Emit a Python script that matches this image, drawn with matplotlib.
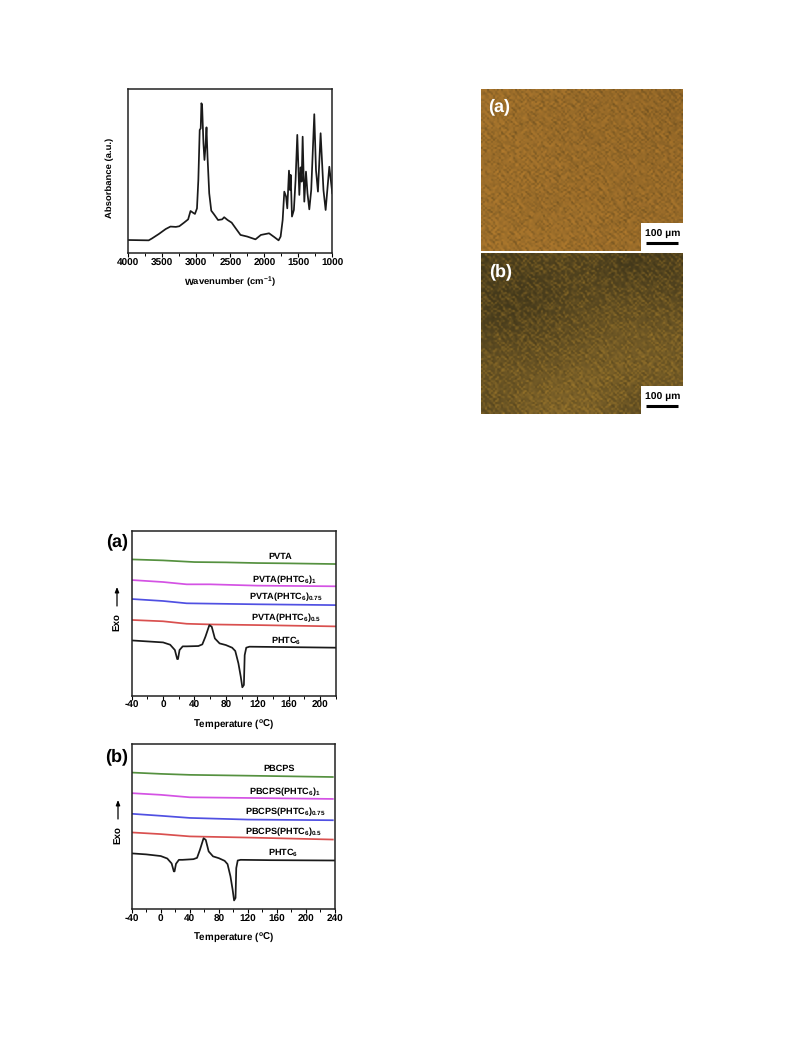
import numpy as np
import matplotlib
matplotlib.use("Agg")
import matplotlib.pyplot as plt
from matplotlib.ticker import MultipleLocator

plt.rcParams['font.family'] = ['Liberation Sans', 'DejaVu Sans']
plt.rcParams['font.weight'] = 'bold'
plt.rcParams['mathtext.fontset'] = 'custom'
plt.rcParams['mathtext.bf'] = 'Liberation Sans:bold'
plt.rcParams['mathtext.rm'] = 'Liberation Sans:bold'
plt.rcParams['axes.unicode_minus'] = False
plt.rcParams['text.hinting'] = 'none'

W, H = 793, 1057

# FTIR spectrum
wavenumber = [4000, 3700, 3650, 3550, 3450, 3380, 3300, 3250, 3180, 3120, 3085, 3050, 3020, 2990, 2970,
              2950, 2935, 2925, 2915, 2895, 2880, 2865, 2850, 2835, 2810, 2780, 2740, 2680, 2620, 2590,
              2540, 2480, 2420, 2350, 2250, 2130, 2050, 1930, 1850, 1790, 1760, 1730, 1706, 1680, 1662,
              1637, 1622, 1612, 1593, 1565, 1540, 1515, 1485, 1466, 1451, 1436, 1412, 1387, 1365, 1338,
              1310, 1265, 1240, 1211, 1172, 1130, 1098, 1044, 1000]
absorbance = [8.1, 7.9, 9.1, 11.8, 14.8, 16.3, 16.1, 16.5, 18.7, 20.7, 25.8, 24.8, 24.0, 27.4, 44.7,
              75.2, 76.2, 91.5, 90.4, 67.1, 56.9, 65.0, 76.8, 58.9, 36.6, 26.0, 23.8, 20.3, 20.7, 22.0,
              20.3, 18.7, 15.2, 11.2, 10.2, 8.5, 11.2, 12.2, 9.8, 7.9, 10.2, 20.3, 37.6, 34.6, 27.4,
              50.4, 38.6, 47.8, 22.4, 26.4, 44.7, 72.2, 35.6, 52.4, 43.7, 71.1, 31.5, 49.8, 36.6, 26.8,
              38.6, 84.8, 50.8, 37.6, 73.2, 38.6, 26.4, 52.8, 36.6]

# DSC traces, panel (a)
temp_a = [-40, 0, 40, 80, 120, 160, 220]
pvta = [82.6, 82.0, 81.0, 80.8, 80.4, 80.2, 79.8]
temp_a2 = [-40, 0, 30, 60, 120, 220]
pvta_1 = [70.1, 68.9, 67.5, 67.5, 66.7, 66.3]
pvta_075 = [58.6, 57.4, 56.0, 55.8, 55.4, 54.9]
pvta_05 = [45.9, 45.1, 43.6, 43.2, 42.8, 42.0]
temp_phtc = [-40, -20, 0, 9, 15, 18, 19, 21, 25, 30, 45, 50, 54, 59, 62, 66, 72, 80, 88, 92, 96, 99, 101,
             103, 104, 106, 110, 150]
phtc_a = [33.5, 32.9, 32.3, 30.9, 27.7, 22.2, 22.2, 27.7, 29.9, 29.9, 30.1, 31.1, 35.8, 42.8, 41.8, 34.7,
          31.7, 30.7, 29.1, 27.1, 19.6, 11.5, 5.1, 6.5, 24.6, 29.1, 29.7, 29.5]
phtc_a_end = 29.1

# DSC traces, panel (b)
temp_b = [-40, 0, 40, 120, 237]
pbcps = [82.7, 81.9, 81.3, 80.8, 80.0]
pbcps_1 = [70.2, 69.2, 67.7, 67.3, 66.7]
pbcps_075 = [57.7, 56.5, 55.2, 54.2, 53.8]
pbcps_05 = [46.4, 45.4, 44.0, 43.3, 42.1]
phtc_b = [33.7, 33.1, 32.1, 30.6, 27.6, 22.8, 22.8, 27.4, 29.8, 29.8, 30.2, 31.0, 35.9, 42.9, 41.9, 34.9,
          31.9, 30.8, 29.2, 27.2, 19.8, 11.7, 5.2, 6.7, 24.8, 29.4, 29.8, 29.6]
phtc_b_end = 29.4

# micrograph tones read by eye (rows top to bottom, 0 dark .. 1 bright)
tone_a = [[.62, .60, .58, .58, .56, .52],
          [.62, .60, .58, .56, .58, .55],
          [.60, .62, .60, .60, .58, .56],
          [.62, .60, .58, .60, .56, .58],
          [.64, .62, .62, .60, .60, .60]]
tone_b = [[.12, .16, .20, .18, .06, .14],
          [.12, .10, .18, .24, .24, .22],
          [.14, .14, .26, .32, .36, .34],
          [.26, .26, .32, .40, .44, .40],
          [.36, .40, .42, .46, .46, .42],
          [.30, .46, .50, .50, .25, .40]]
dark_a, bright_a = np.array([60, 42, 15]), np.array([225, 158, 62])
dark_b, bright_b = np.array([52, 46, 24]), np.array([205, 155, 60])

# hand typed grain, two tiles of different size so the repeat does not show
grain_7 = [[.6, -.4, .1, -.7, .5, -.2, .3],
           [-.5, .2, .7, -.3, -.6, .4, -.1],
           [.3, -.7, -.2, .5, .1, -.5, .6],
           [-.1, .5, -.6, .2, .7, -.3, -.4],
           [.7, -.3, .4, -.5, -.2, .6, -.6],
           [-.6, .1, -.4, .6, -.1, -.7, .4],
           [.2, .6, -.5, -.2, .4, .3, -.7]]
grain_11 = [[-.3, .5, .2, -.6, .1, .4, -.5, .6, -.2, .3, -.4],
            [.4, -.6, .6, .1, -.3, -.5, .2, -.1, .5, -.6, .3],
            [-.5, .1, -.2, .4, .6, -.4, .3, -.6, .2, .5, -.1],
            [.6, -.2, .3, -.5, -.1, .5, -.6, .4, -.3, .1, .2],
            [-.1, .4, -.6, .2, .5, -.3, .1, .6, -.5, -.2, .6],
            [.2, -.5, .5, -.4, -.6, .3, .6, -.2, .1, .4, -.3],
            [.5, .3, -.1, .6, -.2, -.6, .4, .2, -.4, -.5, .1],
            [-.6, .2, .4, -.3, .3, .6, -.1, -.5, .5, .2, -.2],
            [.1, -.4, -.5, .5, .2, -.2, -.3, .4, .6, -.6, .4],
            [.3, .6, -.3, -.1, -.5, .1, .5, -.4, -.6, .2, .5],
            [-.2, -.1, .1, .3, .4, -.6, -.5, .3, .2, .6, -.5]]

fig = plt.figure(figsize=(W / 100, H / 100), dpi=100)


def box(left, top, right, bottom):
    return fig.add_axes([left / W, 1 - bottom / H, (right - left) / W, (bottom - top) / H])


def px(x, y, s, **kw):
    fig.text(x / W, 1 - y / H, s, ha='center', va='center', **kw)


def style(ax):
    for s in ax.spines.values():
        s.set_linewidth(1.1)
        s.set_color('#222222')
    ax.set_yticks([])
    ax.tick_params(axis='x', which='major', length=3, width=0.8, labelsize=7.2, pad=0.8)
    ax.tick_params(axis='x', which='minor', length=1.8, width=0.7)


# FTIR
ax = box(128.3, 89.3, 332.3, 253.3)
ax.plot(wavenumber, absorbance, color='#1a1a1a', lw=1.25)
ax.set_xlim(4000, 1000)
ax.set_ylim(0, 100)
ax.xaxis.set_major_locator(MultipleLocator(500))
ax.xaxis.set_minor_locator(MultipleLocator(250))
style(ax)
px(230, 282, r'Wavenumber (cm$^{\mathbf{-1}}$)', fontsize=6.8)
px(110, 178, 'Absorbance (a.u.)', fontsize=6.8, rotation=90)


def dsc(box_px, xmax, curves, labels, letter_xy, exo_x, exo_y):
    ax = box(*box_px)
    for t, v, c in curves:
        ax.plot(t, v, color=c, lw=1.25)
    ax.set_xlim(-40, xmax)
    ax.set_ylim(0, 100)
    ax.xaxis.set_major_locator(MultipleLocator(40))
    ax.xaxis.set_minor_locator(MultipleLocator(20))
    style(ax)
    for x, y, s in labels:
        px(x, y, s, fontsize=6.6)
    px(letter_xy[0], letter_xy[1], letter_xy[2], fontsize=13)
    px(exo_x, exo_y, 'Exo', fontsize=7, rotation=90)
    fig.add_artist(plt.Annotation('', xy=(exo_x / W, 1 - (exo_y - 35) / H), xycoords='figure fraction',
                                  xytext=(exo_x / W, 1 - (exo_y - 16) / H), textcoords='figure fraction',
                                  arrowprops=dict(arrowstyle='-|>,head_width=0.12,head_length=0.3',
                                                  color='black', lw=0.9, shrinkA=0, shrinkB=0)))
    px((box_px[0] + box_px[2]) / 2, box_px[3] + 28, r'Temperature ($^{\mathbf{o}}$C)', fontsize=7)


green, magenta, blue, red, black = '#55913f', '#d452e4', '#5050e2', '#d9504f', '#1a1a1a'
sub = r'$_{\mathbf{%s}}$'

dsc((131.7, 530.7, 335.7, 695.7), 220,
    [(temp_a, pvta, green), (temp_a2, pvta_1, magenta), (temp_a2, pvta_075, blue), (temp_a2, pvta_05, red),
     (temp_phtc + [220], phtc_a + [phtc_a_end], black)],
    [(280, 557, 'PVTA'),
     (284, 580, 'PVTA(PHTC' + sub % '6' + ')' + sub % '1'),
     (286, 597, 'PVTA(PHTC' + sub % '6' + ')' + sub % '0.75'),
     (286, 618, 'PVTA(PHTC' + sub % '6' + ')' + sub % '0.5'),
     (286, 640, 'PHTC' + sub % '6')],
    (117, 542, '(a)'), 117, 622)

dsc((131.7, 744, 335, 909), 240,
    [(temp_b, pbcps, green), (temp_b, pbcps_1, magenta), (temp_b, pbcps_075, blue), (temp_b, pbcps_05, red),
     (temp_phtc + [240], phtc_b + [phtc_b_end], black)],
    [(279, 769, 'PBCPS'),
     (285, 792, 'PBCPS(PHTC' + sub % '6' + ')' + sub % '1'),
     (285, 812, 'PBCPS(PHTC' + sub % '6' + ')' + sub % '0.75'),
     (284, 832, 'PBCPS(PHTC' + sub % '6' + ')' + sub % '0.5'),
     (283, 852, 'PHTC' + sub % '6')],
    (117, 757, '(b)'), 118, 835)

# grain layer shared by both micrographs, cells about 2 px wide
rows, cols = 81, 101
grain = (np.tile(grain_7, (rows // 7 + 1, cols // 7 + 1))[:rows, :cols]
         + np.tile(grain_11, (rows // 11 + 1, cols // 11 + 1))[:rows, :cols])


# micrographs with scale bars
def micro(top, bottom, tone, dark, bright, grain_gold, strength, letter, letter_x, letter_y):
    ax = box(481.3, top, 683.3, bottom)
    t = np.array(tone)[:, :, None]
    ax.imshow((dark + (bright - dark) * t) / 255, aspect='auto', interpolation='bicubic', extent=(0, 1, 0, 1))
    rgba = np.zeros((rows, cols, 4))
    rgba[grain > 0, :3] = np.array(grain_gold) / 255
    rgba[grain <= 0, :3] = np.array([50, 42, 18]) / 255
    rgba[:, :, 3] = np.clip(np.abs(grain) * strength, 0, 1)
    ax.imshow(rgba, aspect='auto', interpolation='bilinear', extent=(0, 1, 0, 1))
    ax.axis('off')
    ax.add_patch(plt.Rectangle((0.79, 0), 0.21, 28 / (bottom - top), color='white', lw=0))
    ax.plot([0.815, 0.973], [8 / (bottom - top)] * 2, color='black', lw=2.2, solid_capstyle='butt')
    ax.set_xlim(0, 1)
    ax.set_ylim(0, 1)
    px(663, bottom - 16.5, '100 µm', fontsize=7.5)
    px(letter_x, letter_y, letter, fontsize=13, color='white')


micro(89.3, 250.7, tone_a, dark_a, bright_a, (215, 145, 50), 0.4, '(a)', 499, 107)
micro(252.7, 414.3, tone_b, dark_b, bright_b, (215, 160, 50), 0.42, '(b)', 501, 272)

fig.savefig('out.png', dpi=100)
